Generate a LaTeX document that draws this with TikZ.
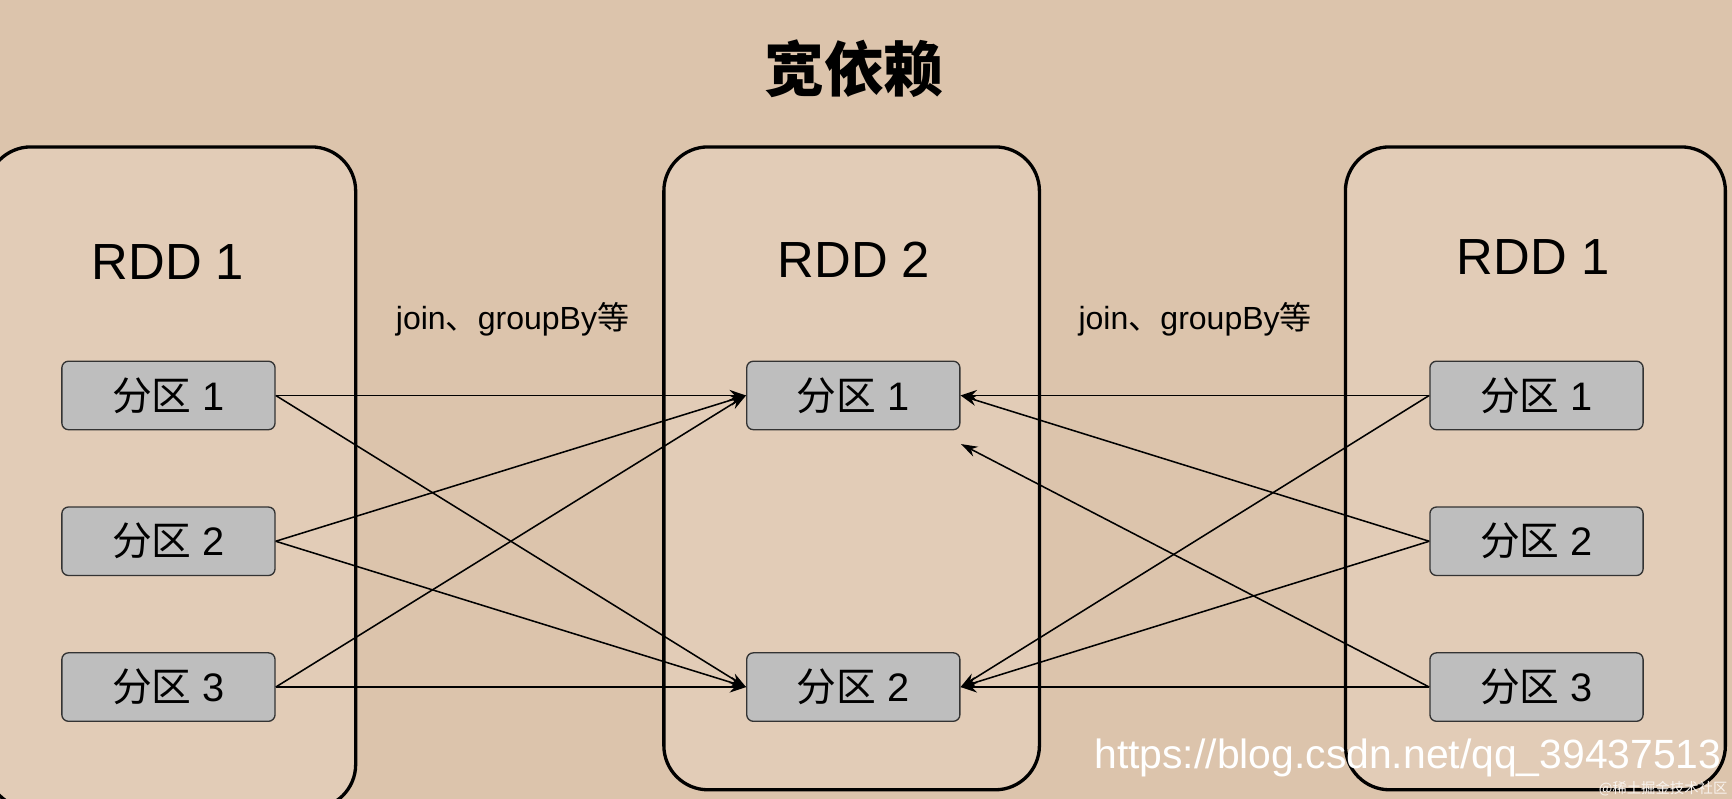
\documentclass[tikz,border=0pt]{standalone}
\usepackage{fontspec}
\setmainfont{Liberation Sans}
\newfontfamily\cjk{Noto Sans CJK SC}
\usetikzlibrary{arrows.meta}
\definecolor{bg}{RGB}{220,196,172}
\definecolor{boxbg}{RGB}{226,204,183}
\definecolor{pfill}{RGB}{190,190,190}
\begin{document}
\begin{tikzpicture}[x=1pt,y=-1pt,
  rdd/.style={draw=black,line width=3pt,rounded corners=40pt,fill=boxbg},
  part/.style={draw=black!80,line width=1.2pt,fill=pfill,rounded corners=6pt,minimum width=193pt,minimum height=62pt,font=\fontsize{36}{38}\selectfont},
  lbl/.style={font=\fontsize{46}{50}\selectfont},
  op/.style={font=\fontsize{29}{32}\selectfont},
  arr/.style={line width=1.4pt,-{Stealth[length=15pt,width=10pt]}}]
\fill[bg] (0,0) rectangle (1568,723);
\useasboundingbox (0,0) rectangle (1568,723);
\node[font=\cjk\bfseries\fontsize{54}{58}\selectfont] (title) at (773,62) {宽依赖};
\draw[rdd] (-12,133) rectangle (322,732);
\draw[rdd] (601,133) rectangle (941,715);
\draw[rdd] (1218,133) rectangle (1562,715);
\node[lbl] (rA) at (152,237) {RDD 1};
\node[lbl] (rB) at (773,235) {RDD 2};
\node[lbl] (rC) at (1388,233) {RDD 1};
\node[op] (o1) at (464,289) {join{\cjk 、}groupBy{\cjk 等}};
\node[op] (o2) at (1082,289) {join{\cjk 、}groupBy{\cjk 等}};
\node[part] (a1) at (152.5,358) {{\cjk 分区} 1};
\node[part] (a2) at (152.5,490) {{\cjk 分区} 2};
\node[part] (a3) at (152.5,622) {{\cjk 分区} 3};
\node[part] (m1) at (772.5,358) {{\cjk 分区} 1};
\node[part] (m2) at (772.5,622) {{\cjk 分区} 2};
\node[part] (c1) at (1391,358) {{\cjk 分区} 1};
\node[part] (c2) at (1391,490) {{\cjk 分区} 2};
\node[part] (c3) at (1391,622) {{\cjk 分区} 3};
\coordinate (free) at (870,402);
\foreach \s in {a1,a2,a3}{\draw[arr] (\s.east) -- (m1.west); \draw[arr] (\s.east) -- (m2.west);}
\foreach \s in {c1,c2}{\draw[arr] (\s.west) -- (m1.east); \draw[arr] (\s.west) -- (m2.east);}
\draw[arr] (c3.west) -- (m2.east);
\draw[arr] (c3.west) -- (free);
\node[text=white,font=\fontsize{37}{40}\selectfont,anchor=east] (wm) at (1562,686) {https://blog.csdn.net/qq\_39437513};
\node[text=white!80!bg,font=\cjk\fontsize{13}{15}\selectfont,anchor=east,inner sep=1pt] (wm2) at (1565,714) {@稀土掘金技术社区};
\end{tikzpicture}
\end{document}
